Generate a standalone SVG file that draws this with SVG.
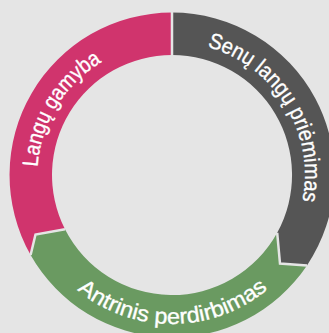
<svg xmlns="http://www.w3.org/2000/svg" width="329" height="333" viewBox="0 0 329 333">
  <style>
    .lbl { font-family: "Liberation Sans", Arial, sans-serif; font-size: 22px; fill: #ffffff; stroke: #ffffff; stroke-width: 0.35; }
    .sep { fill: none; stroke: #e5e5e5; stroke-width: 2.5; stroke-linejoin: miter; }
  </style>
  <defs>
    <path id="p-pink" d="M 54.7 239.8 A 131 131 0 0 1 174.6 44"/>
    <path id="p-gray" d="M 168.0 42.1 A 133 133 0 0 1 289.1 238"/>
    <path id="p-green" d="M 43.3 250.2 A 149 149 0 0 0 301.4 248.8"/>
  </defs>
  <rect x="0" y="0" width="329" height="333" fill="#e5e5e5"/>
  <g id="langu-gamyba">
    <path d="M 172 12.5 A 162.5 162.5 0 0 0 30.6 255 L 35.5 234.5 L 65 229.3 A 120 120 0 0 1 172 55 Z" fill="#d0346d"/>
    <text class="lbl"><textPath href="#p-pink" startOffset="50%" text-anchor="middle" textLength="128" lengthAdjust="spacingAndGlyphs">Langų gamyba</textPath></text>
  </g>
  <g id="senu-langu-priemimas">
    <path d="M 172 12.5 A 162.5 162.5 0 0 1 307 265.4 L 280 263.5 L 277.2 232.8 A 120 120 0 0 0 172 55 Z" fill="#555555"/>
    <text class="lbl"><textPath href="#p-gray" startOffset="50%" text-anchor="middle" textLength="199" lengthAdjust="spacingAndGlyphs">Senų langų priėmimas</textPath></text>
  </g>
  <g id="antrinis-perdirbimas">
    <path d="M 307 265.4 A 162.5 162.5 0 0 1 30.6 255 L 35.5 234.5 L 65 229.3 A 120 120 0 0 0 277.2 232.8 L 280 263.5 Z" fill="#6a9a61"/>
    <text class="lbl"><textPath href="#p-green" startOffset="50%" text-anchor="middle" textLength="207" lengthAdjust="spacingAndGlyphs">Antrinis perdirbimas</textPath></text>
  </g>
  <g id="connectors">
    <line class="sep" x1="172" y1="10" x2="172" y2="57"/>
    <polyline class="sep" points="277.2,232.8 280,263.5 307,265.4"/>
    <polyline class="sep" points="65,229.3 35.5,234.5 30.6,255"/>
  </g>
</svg>
